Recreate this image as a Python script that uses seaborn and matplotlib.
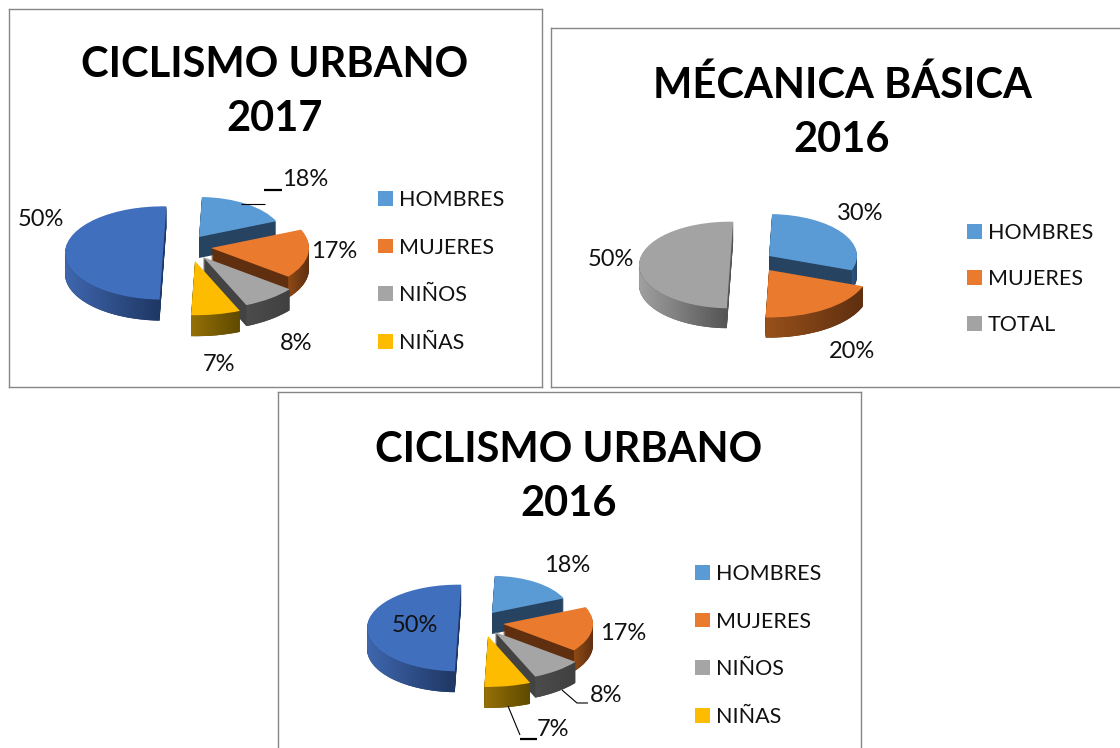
import numpy as np
import seaborn as sns
import matplotlib
matplotlib.use("Agg")
import matplotlib.pyplot as plt
from matplotlib.colors import LinearSegmentedColormap
from matplotlib.patches import Patch, Polygon

sns.set_theme(style="white")
plt.rcParams['font.family'] = ['Lato', 'DejaVu Sans']

W, H = 1120, 748
SQ = 2.1  # flattening of the pies

# data
names_2017 = ["HOMBRES", "MUJERES", "NIÑOS", "NIÑAS", ""]
values_2017 = [18, 17, 8, 7, 50]
names_mec = ["HOMBRES", "MUJERES", "TOTAL"]
values_mec = [30, 20, 50]
names_2016 = ["HOMBRES", "MUJERES", "NIÑOS", "NIÑAS", ""]
values_2016 = [18, 17, 8, 7, 50]

# colours: top, cut face, rim light, rim dark
BLUE = ("#5b9bd5", "#264361", "#2f5580", "#264361")
ORANGE = ("#e97a2e", "#5f2f10", "#8f4a16", "#5f2f10")
GRAY = ("#a5a5a5", "#434343", "#4c4c4c", "#404040")
GOLD = ("#fdbc00", "#5f4a00", "#957006", "#5f4a00")
DEEP = ("#406fbe", "#1f3864", "#3f66ae", "#1f3864")
SILVER = ("#a3a3a3", "#555555", "#a0a0a0", "#555555")
ORANGE2 = ("#e97a2e", "#5f2f10", "#97501a", "#5f2f10")


def draw_panel(frame, title, title_xy, names, values, styles, apex, radii, depth,
               labels_xy, legend_xy, legend_gap, leaders=()):
    x0, y0, x1, y1 = frame
    ax = plt.gcf().add_axes([x0 / W, 1 - y1 / H, (x1 - x0) / W, (y1 - y0) / H])

    def py(v):
        return (y1 - v) * SQ

    # rim layers, then the top face
    for z in list(range(depth, 0, -1)) + [0]:
        if z == 0:
            cols = [s[0] for s in styles]
        else:
            cols = [s[1] for s in styles]
        wedges, _ = ax.pie(values, colors=cols, startangle=88, counterclock=False)
        for i, w in enumerate(wedges):
            w.set_center((apex[i][0], py(apex[i][1] + z)))
            w.set_radius(radii[i])
            w.set_zorder(10 + i + (0.6 if z == 0 else 0))
            w.set_edgecolor("none")
            if z == 0:
                # gradient on the outer rim
                th = np.radians(np.linspace(w.theta1, w.theta2, 80))
                th = th[np.sin(th) <= 0]
                if len(th) < 2:
                    continue
                xs = apex[i][0] + radii[i] * np.cos(th)
                ys = py(apex[i][1]) + radii[i] * np.sin(th)
                pts = np.r_[np.c_[xs, ys], np.c_[xs, ys - depth * SQ][::-1]]
                cm = LinearSegmentedColormap.from_list("rim", [styles[i][2], styles[i][3]])
                im = ax.imshow(np.linspace(0, 1, 64)[None, :], cmap=cm, aspect="auto",
                               extent=(xs.min(), xs.max(), pts[:, 1].min(), pts[:, 1].max()),
                               zorder=10 + i + 0.3)
                im.set_clip_path(Polygon(pts, transform=ax.transData))

    ax.set_aspect("auto")
    ax.set_xlim(x0, x1)
    ax.set_ylim(0, (y1 - y0) * SQ)
    ax.set_xticks([])
    ax.set_yticks([])
    ax.set_frame_on(True)
    for s in ax.spines.values():
        s.set_color("#868686")
        s.set_linewidth(1)

    ax.text(title_xy[0], py(title_xy[1]), title, ha="center", va="center", fontsize=TITLE_SIZE,
            fontweight="bold", color="black", linespacing=1.5, zorder=40)

    for v, (lx, ly) in zip(values, labels_xy):
        ax.text(lx, py(ly), f"{v}%", ha="center", va="center", fontsize=LABEL_SIZE,
                color="#111111", zorder=40)

    for xs, ys, lw in leaders:
        ax.plot(xs, [py(v) for v in ys], color="black", lw=lw, zorder=30, solid_capstyle="butt")
    ax.set_xlim(x0, x1)
    ax.set_ylim(0, (y1 - y0) * SQ)

    handles = [Patch(color=s[0], lw=0) for s, n in zip(styles, names) if n]
    ax.legend(handles, [n for n in names if n], loc="upper left", frameon=False,
              bbox_to_anchor=((legend_xy[0]) / W, 1 - legend_xy[1] / H),
              bbox_transform=plt.gcf().transFigure, borderpad=0, borderaxespad=0,
              fontsize=LEGEND_SIZE, handlelength=0.68, handleheight=0.68, handletextpad=0.3,
              labelspacing=legend_gap, labelcolor="#111111")


TITLE_SIZE = 30
LABEL_SIZE = 17
LEGEND_SIZE = 15.5

fig = plt.figure(figsize=(W / 100, H / 100), dpi=100, facecolor="white")

draw_panel((9, 9, 542, 387), "CICLISMO URBANO\n2017", (275, 92), names_2017, values_2017,
           [BLUE, ORANGE, GRAY, GOLD, DEEP],
           [(199, 237), (211, 248), (203, 257), (195, 261), (163, 253)],
           [84, 98, 110, 114, 98], 21,
           [(305, 179), (334, 252), (296, 344), (219, 365), (41, 219)],
           (378, 190), 1.28,
           leaders=[((264, 282), (190, 190), 1.6), ((241, 265), (204, 204), 0.8)])

draw_panel((551, 28, 1125, 387), "MÉCANICA BÁSICA\n2016", (842, 112), names_mec, values_mec,
           [BLUE, ORANGE2, SILVER],
           [(769, 256), (769, 270), (730, 265)],
           [88, 100, 91], 20,
           [(860, 213), (852, 352), (611, 260)],
           (967, 223), 1.2)

draw_panel((278, 392, 861, 755), "CICLISMO URBANO\n2016", (569, 477), names_2016, values_2016,
           [BLUE, ORANGE, GRAY, GOLD, DEEP],
           [(492, 613), (503, 624), (495, 632), (488, 636), (458, 628)],
           [78, 90, 102, 107, 91], 21,
           [(567, 566), (623, 633), (606, 695), (553, 729), (415, 625)],
           (695, 564), 1.28,
           leaders=[((562, 577, 588), (690, 703, 703), 0.8),
                    ((508, 520), (706, 735), 0.8),
                    ((520, 537), (739, 739), 1.6)])

fig.savefig("out.png", dpi=100, facecolor="white")
